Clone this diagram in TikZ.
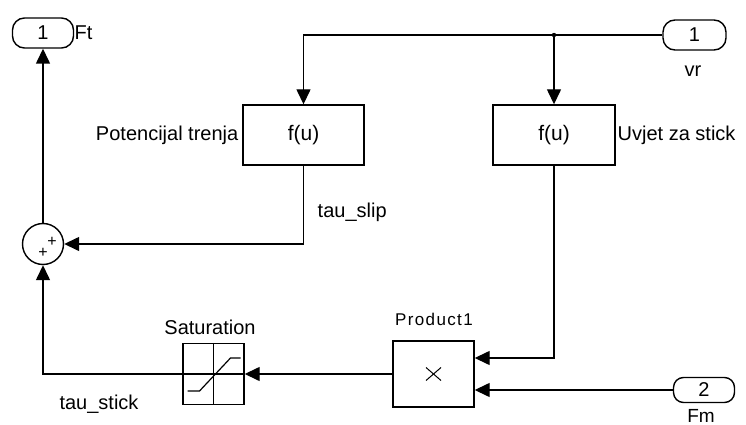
\documentclass[tikz,border=0pt]{standalone}
\usepackage{fontspec}
\setmainfont{Liberation Sans}
\usetikzlibrary{arrows.meta}
\begin{document}
\begin{tikzpicture}[x=1pt,y=-1pt,line width=1.4pt,
  port/.style={draw,rounded corners=12pt,minimum width=61pt,minimum height=30pt,inner sep=0pt,font=\fontsize{20}{22}\selectfont},
  fblk/.style={draw,rectangle,minimum width=121pt,minimum height=60pt,inner sep=0pt,font=\fontsize{21}{23}\selectfont},
  lbl/.style={font=\fontsize{20}{22}\selectfont,inner sep=1pt},
  arr/.style={-{Triangle[length=15pt,width=14pt]}}]
\useasboundingbox (0,0) rectangle (746,425);
% ports
\node[port] (ft) at (43,33) {1};
\node[port,minimum width=63pt] (vr) at (694.5,35) {1};
\node[port,minimum height=25pt,rounded corners=10pt] (fm) at (704,390) {2};
\node[lbl,anchor=west] (ftl) at (73,33) {Ft};
\node[lbl] (vrl) at (693,71) {vr};
\node[lbl,font=\fontsize{19}{21}\selectfont] (fml) at (701,416) {Fm};
% function blocks
\node[fblk] (pot) at (303.5,135) {f(u)};
\node[fblk,minimum width=122pt] (uvj) at (554,135) {f(u)};
\node[lbl,anchor=east] (potl) at (240,135) {Potencijal trenja};
\node[lbl,anchor=west] (uvjl) at (616,135) {Uvjet za stick};
\node[lbl,anchor=west] (slipl) at (316,212) {tau\_slip};
% sum
\node[draw,circle,minimum size=41pt,inner sep=0pt] (sum) at (43,244) {};
\node[font=\fontsize{16}{16}\selectfont,inner sep=0pt] (pl1) at (52,242) {+};
\node[font=\fontsize{16}{16}\selectfont,inner sep=0pt] (pl2) at (43,253) {+};
% saturation
\node[draw,rectangle,minimum width=61pt,minimum height=61pt,inner sep=0pt] (sat) at (213.5,374) {};
\node[lbl] (satl) at (210,327) {Saturation};
\draw (sat.north) -- (sat.south);
\draw (sat.west) -- (sat.east);
\draw[line width=1.2pt] ([xshift=-26pt,yshift=-17pt]sat.center) -- ([xshift=-14pt,yshift=-17pt]sat.center)
      -- ([xshift=17pt,yshift=16pt]sat.center) -- ([xshift=27pt,yshift=16pt]sat.center);
\fill (sat.center) circle (1.6pt);
\node[lbl] (stickl) at (99,404) {tau\_stick};
% product
\node[draw,rectangle,minimum width=81pt,minimum height=66pt,inner sep=0pt] (prod) at (433.5,374) {};
\draw[line width=1pt] ([xshift=-7.5pt,yshift=-6.5pt]prod.center) -- ([xshift=7.5pt,yshift=6.5pt]prod.center);
\draw[line width=1pt] ([xshift=-7.5pt,yshift=6.5pt]prod.center) -- ([xshift=7.5pt,yshift=-6.5pt]prod.center);
\node[lbl,font=\fontsize{17}{19}\selectfont\addfontfeature{LetterSpace=8}] (prodl) at (434,319) {Product1};
\coordinate (in1) at ([yshift=16pt]prod.east);
\coordinate (in2) at ([yshift=-16pt]prod.east);
% connections
\coordinate (junc) at (554,35);
\draw (vr.west) -- (junc);
\fill (junc) circle (2.2pt);
\draw[arr] (junc) -| (pot.north);
\draw[arr] (junc) -- (uvj.north);
\draw[arr] (pot.south) |- (sum.east);
\draw[arr] (uvj.south) |- (in1);
\draw[arr] (fm.west) -- (in2);
\draw[arr] (prod.west) -- (sat.east);
\draw[arr] (sat.west) -| (sum.south);
\draw[arr] (sum.north) -- (ft.south);
\end{tikzpicture}
\end{document}
